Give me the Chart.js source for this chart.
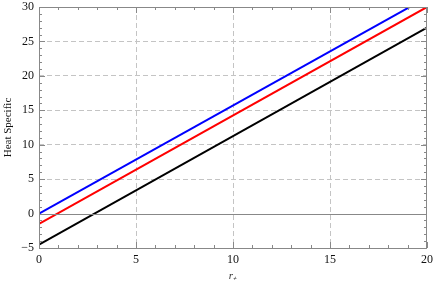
<!DOCTYPE html>
<html>
<head>
<meta charset="utf-8">
<script src="https://cdn.jsdelivr.net/npm/chart.js@4.4.0/dist/chart.umd.min.js"></script>
<style>
  body { margin: 0; background: #fff; }
  #wrap { width: 436px; height: 285px; }
</style>
</head>
<body>
<div id="wrap"><canvas id="heat"></canvas></div>
<script>
var rValues = [0, 20];
var blueValues = [0, 31.4];
var redValues = [-1.5, 30];
var blackValues = [-4.5, 27];
var xTicks = [0, 5, 10, 15, 20];
var yTicks = [-5, 0, 5, 10, 15, 20, 25, 30];

function toPoints(ys) {
  return rValues.map(function (x, i) { return { x: x, y: ys[i] }; });
}

// frame ticks drawn inward on all four sides, plus the solid zero line
var frameTicks = {
  id: "frameTicks",
  afterDraw: function (chart) {
    var ctx = chart.ctx;
    var a = chart.chartArea;
    var xs = chart.scales.x;
    var ys = chart.scales.y;
    ctx.save();
    ctx.strokeStyle = "#888";
    ctx.lineWidth = 1;
    ctx.beginPath();
    var y0 = Math.round(ys.getPixelForValue(0)) + 0.5;
    ctx.moveTo(a.left, y0);
    ctx.lineTo(a.right, y0);
    for (var v = 0; v <= 20; v++) {
      var px = Math.round(xs.getPixelForValue(v)) + 0.5;
      var len = v % 5 === 0 ? 6 : 3;
      ctx.moveTo(px, a.bottom);
      ctx.lineTo(px, a.bottom - len);
      ctx.moveTo(px, a.top);
      ctx.lineTo(px, a.top + len);
    }
    for (var w = -5; w <= 30; w++) {
      var py = Math.round(ys.getPixelForValue(w)) + 0.5;
      var l2 = w % 5 === 0 ? 6 : 3;
      ctx.moveTo(a.left, py);
      ctx.lineTo(a.left + l2, py);
      ctx.moveTo(a.right, py);
      ctx.lineTo(a.right - l2, py);
    }
    ctx.stroke();
    ctx.strokeRect(a.left + 0.5, a.top + 0.5, a.right - a.left - 1, a.bottom - a.top);
    ctx.restore();
  }
};

function gridColor(c) {
  var v = c.tick ? c.tick.value : null;
  if (c.scale.axis === "x") return (v === 0 || v === 20) ? "rgba(0,0,0,0)" : "#c4c4c4";
  return (v === 0 || v === -5 || v === 30) ? "rgba(0,0,0,0)" : "#c4c4c4";
}

var ctx = document.getElementById("heat").getContext("2d");
var chart = new Chart(ctx, {
  type: "line",
  data: {
    datasets: [
      { data: toPoints(blueValues), borderColor: "#0000ff", borderWidth: 2, pointRadius: 0 },
      { data: toPoints(redValues), borderColor: "#ff0000", borderWidth: 2, pointRadius: 0 },
      { data: toPoints(blackValues), borderColor: "#000000", borderWidth: 2, pointRadius: 0 }
    ]
  },
  options: {
    responsive: true,
    maintainAspectRatio: false,
    animation: false,
    layout: { padding: { top: 7, right: 9, left: 2, bottom: 0 } },
    plugins: { legend: { display: false }, tooltip: { enabled: false } },
    scales: {
      x: {
        type: "linear",
        min: 0,
        max: 20,
        afterBuildTicks: function (s) { s.ticks = xTicks.map(function (v) { return { value: v }; }); },
        grid: { color: gridColor, drawTicks: false },
        border: { display: false, dash: [5, 3] },
        ticks: { color: "#111", padding: 5, maxRotation: 0, font: { family: "Liberation Serif", size: 12 } },
        title: { display: true, text: "r\u208A", color: "#333", padding: { top: 1, bottom: 2 },
                 font: { family: "Liberation Serif", size: 11, style: "italic" } },
        afterFit: function (s) { s.height = 37; s.paddingLeft = 0; s.paddingRight = 0; }
      },
      y: {
        type: "linear",
        min: -5,
        max: 30,
        afterBuildTicks: function (s) { s.ticks = yTicks.map(function (v) { return { value: v }; }); },
        grid: { color: gridColor, drawTicks: false },
        border: { display: false, dash: [5, 3] },
        ticks: { color: "#111", padding: 5, font: { family: "Liberation Serif", size: 12 },
                 callback: function (v) { return v < 0 ? "\u2212" + Math.abs(v) : v; } },
        title: { display: true, text: "Heat Specific", color: "#111", padding: { top: 0, bottom: 0 },
                 font: { family: "Liberation Serif", size: 11 } },
        afterFit: function (s) { s.width = 37; s.paddingTop = 0; s.paddingBottom = 0; }
      }
    }
  },
  plugins: [frameTicks]
});
</script>
</body>
</html>
